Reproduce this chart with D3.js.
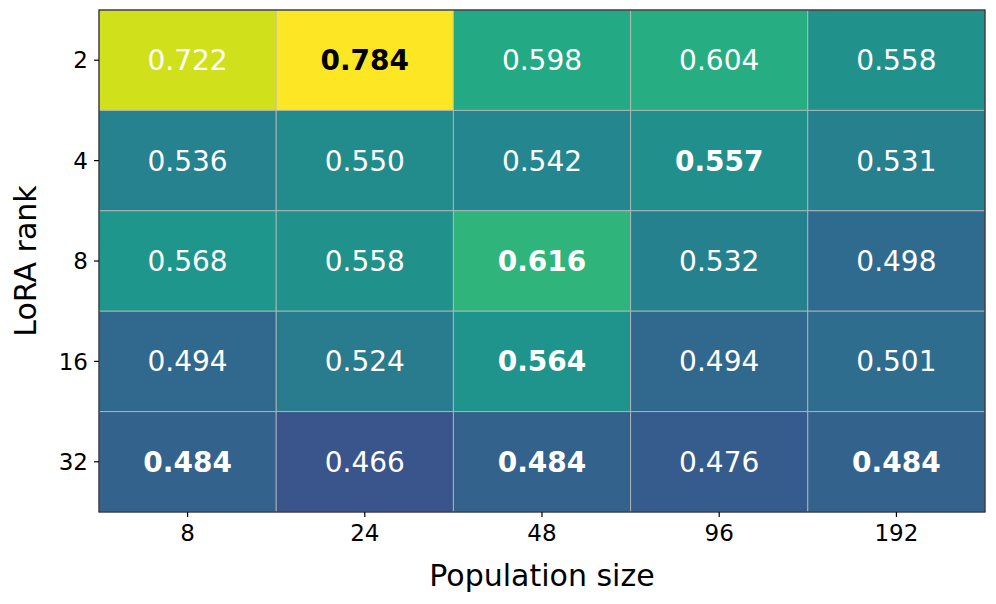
<!DOCTYPE html>
<html>
<head>
<meta charset="utf-8">
<script src="https://cdn.jsdelivr.net/npm/d3@7"></script>
<style>
  body { margin: 0; background: #fff; }
  text { font-family: "DejaVu Sans", sans-serif; }
</style>
</head>
<body>
<svg id="chart" width="996" height="604"></svg>
<script>
const popSizes = ["8", "24", "48", "96", "192"];
const ranks = ["2", "4", "8", "16", "32"];
// rows = LoRA rank, columns = population size
const scores = [
  [0.722, 0.784, 0.598, 0.604, 0.558],
  [0.536, 0.550, 0.542, 0.557, 0.531],
  [0.568, 0.558, 0.616, 0.532, 0.498],
  [0.494, 0.524, 0.564, 0.494, 0.501],
  [0.484, 0.466, 0.484, 0.476, 0.484]
];
const bold = [
  [false, true, false, false, false],
  [false, false, false, true, false],
  [false, false, true, false, false],
  [false, false, true, false, false],
  [true, false, true, false, true]
];

let svg = d3.select("#chart");
let margin = { top: 10, right: 11, bottom: 92, left: 99 };
const w = 996 - margin.left - margin.right;
const h = 604 - margin.top - margin.bottom;
const g = svg.append("g")
    .attr("transform", "translate(" + margin.left + "," + margin.top + ")");

const x = d3.scaleBand().domain(popSizes).range([0, w]);
const y = d3.scaleBand().domain(ranks).range([0, h]);
const color = d3.scaleSequential(d3.interpolateViridis).domain([0.365, 0.75]).clamp(true);

let cells = [];
scores.forEach((row, i) => {
  row.forEach((v, j) => {
    cells.push({ rank: ranks[i], pop: popSizes[j], v: v, bold: bold[i][j] });
  });
});

g.selectAll("rect.cell").data(cells)
  .enter().append("rect")
    .attr("class", "cell")
    .attr("x", d => x(d.pop))
    .attr("y", d => y(d.rank))
    .attr("width", x.bandwidth())
    .attr("height", y.bandwidth())
    .attr("fill", d => color(d.v))
    .attr("stroke", "rgba(190,190,190,0.75)")
    .attr("stroke-width", 1);

g.selectAll("text.val").data(cells)
  .enter().append("text")
    .attr("class", "val")
    .attr("x", d => x(d.pop) + x.bandwidth() / 2)
    .attr("y", d => y(d.rank) + y.bandwidth() / 2)
    .attr("dy", "0.36em")
    .attr("text-anchor", "middle")
    .style("font-size", "28px")
    .attr("font-weight", d => d.bold ? "bold" : "normal")
    .attr("fill", d => d.v > 0.75 ? "#000" : "#fff")
    .text(d => d.v.toFixed(3));

// frame
g.append("rect")
  .attr("width", w).attr("height", h)
  .attr("fill", "none").attr("stroke", "#222").attr("stroke-width", 1.2);

const xAxis = g.append("g")
  .attr("transform", "translate(0," + h + ")")
  .call(d3.axisBottom(x).tickSize(5).tickPadding(8));
const yAxis = g.append("g")
  .call(d3.axisLeft(y).tickSize(5).tickPadding(6));
[xAxis, yAxis].forEach(a => {
  a.select(".domain").remove();
  a.selectAll("text")
    .style("font-size", "23px")
    .style("font-family", "DejaVu Sans")
    .attr("fill", "#000");
  a.selectAll("line").attr("stroke", "#000").attr("stroke-width", 1.2);
});
yAxis.selectAll("text").attr("dy", "0.36em");

svg.append("text")
  .attr("x", margin.left + w / 2)
  .attr("y", 586)
  .attr("text-anchor", "middle")
  .style("font-size", "30px")
  .text("Population size");

svg.append("text")
  .attr("transform", "translate(36," + (margin.top + h / 2) + ") rotate(-90)")
  .attr("text-anchor", "middle")
  .style("font-size", "30px")
  .text("LoRA rank");
</script>
</body>
</html>
